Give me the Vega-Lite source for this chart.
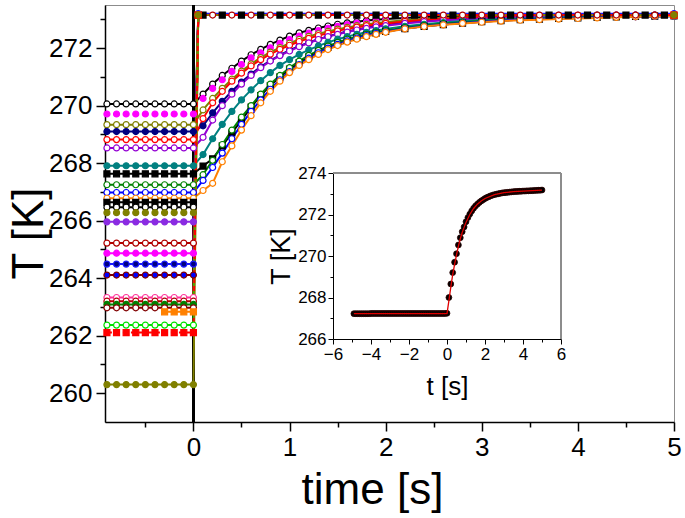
{
"$schema":"https://vega.github.io/schema/vega-lite/v6.json",
"autosize":"none",
"padding":{"left":105,"top":5,"right":11,"bottom":96},
"width":569,"height":417,
"background":"white",
"config":{"view":{"stroke":"#8c8c8c","strokeWidth":1},"axis":{"labelFont":"Liberation Sans","titleFont":"Liberation Sans"}},
"datasets":{
"main":[
{"s":"G1","t":-0.9,"T":270.06},{"s":"G1","t":-0.8,"T":270.06},{"s":"G1","t":-0.7,"T":270.06},{"s":"G1","t":-0.6,"T":270.06},{"s":"G1","t":-0.5,"T":270.06},{"s":"G1","t":-0.4,"T":270.06},{"s":"G1","t":-0.3,"T":270.06},{"s":"G1","t":-0.2,"T":270.06},{"s":"G1","t":-0.1,"T":270.06},{"s":"G1","t":0,"T":270.06},
{"s":"G1","t":0.1,"T":270.40},{"s":"G1","t":0.2,"T":270.75},{"s":"G1","t":0.3,"T":271.05},{"s":"G1","t":0.4,"T":271.30},{"s":"G1","t":0.5,"T":271.55},{"s":"G1","t":0.6,"T":271.77},{"s":"G1","t":0.7,"T":271.96},{"s":"G1","t":0.8,"T":272.13},{"s":"G1","t":0.9,"T":272.28},{"s":"G1","t":1.0,"T":272.42},{"s":"G1","t":1.1,"T":272.53},{"s":"G1","t":1.2,"T":272.62},{"s":"G1","t":1.3,"T":272.70},{"s":"G1","t":1.4,"T":272.77},{"s":"G1","t":1.5,"T":272.83},{"s":"G1","t":1.6,"T":272.88},{"s":"G1","t":1.7,"T":272.92},{"s":"G1","t":1.8,"T":272.96},{"s":"G1","t":1.9,"T":272.99},{"s":"G1","t":2.0,"T":273.01},{"s":"G1","t":2.2,"T":273.05},{"s":"G1","t":2.4,"T":273.08},{"s":"G1","t":2.6,"T":273.10},{"s":"G1","t":2.8,"T":273.11},{"s":"G1","t":3.0,"T":273.12},{"s":"G1","t":3.2,"T":273.13},{"s":"G1","t":3.4,"T":273.13},{"s":"G1","t":3.6,"T":273.14},{"s":"G1","t":3.8,"T":273.14},{"s":"G1","t":4.0,"T":273.14},{"s":"G1","t":4.2,"T":273.15},{"s":"G1","t":4.4,"T":273.15},{"s":"G1","t":4.6,"T":273.15},{"s":"G1","t":4.8,"T":273.15},{"s":"G1","t":5.0,"T":273.15},
{"s":"G2","t":-0.9,"T":269.71},{"s":"G2","t":-0.8,"T":269.71},{"s":"G2","t":-0.7,"T":269.71},{"s":"G2","t":-0.6,"T":269.71},{"s":"G2","t":-0.5,"T":269.71},{"s":"G2","t":-0.4,"T":269.71},{"s":"G2","t":-0.3,"T":269.71},{"s":"G2","t":-0.2,"T":269.71},{"s":"G2","t":-0.1,"T":269.71},{"s":"G2","t":0,"T":269.71},
{"s":"G2","t":0.1,"T":270.25},{"s":"G2","t":0.2,"T":270.60},{"s":"G2","t":0.3,"T":270.90},{"s":"G2","t":0.4,"T":271.19},{"s":"G2","t":0.5,"T":271.43},{"s":"G2","t":0.6,"T":271.66},{"s":"G2","t":0.7,"T":271.84},{"s":"G2","t":0.8,"T":272.01},{"s":"G2","t":0.9,"T":272.17},{"s":"G2","t":1.0,"T":272.30},{"s":"G2","t":1.1,"T":272.42},{"s":"G2","t":1.2,"T":272.52},{"s":"G2","t":1.3,"T":272.61},{"s":"G2","t":1.4,"T":272.69},{"s":"G2","t":1.5,"T":272.76},{"s":"G2","t":1.6,"T":272.82},{"s":"G2","t":1.7,"T":272.87},{"s":"G2","t":1.8,"T":272.91},{"s":"G2","t":1.9,"T":272.95},{"s":"G2","t":2.0,"T":272.98},{"s":"G2","t":2.2,"T":273.03},{"s":"G2","t":2.4,"T":273.06},{"s":"G2","t":2.6,"T":273.08},{"s":"G2","t":2.8,"T":273.10},{"s":"G2","t":3.0,"T":273.11},{"s":"G2","t":3.2,"T":273.12},{"s":"G2","t":3.4,"T":273.13},{"s":"G2","t":3.6,"T":273.13},{"s":"G2","t":3.8,"T":273.14},{"s":"G2","t":4.0,"T":273.14},{"s":"G2","t":4.2,"T":273.14},{"s":"G2","t":4.4,"T":273.15},{"s":"G2","t":4.6,"T":273.15},{"s":"G2","t":4.8,"T":273.15},{"s":"G2","t":5.0,"T":273.15},
{"s":"G3","t":-0.9,"T":269.34},{"s":"G3","t":-0.8,"T":269.34},{"s":"G3","t":-0.7,"T":269.34},{"s":"G3","t":-0.6,"T":269.34},{"s":"G3","t":-0.5,"T":269.34},{"s":"G3","t":-0.4,"T":269.34},{"s":"G3","t":-0.3,"T":269.34},{"s":"G3","t":-0.2,"T":269.34},{"s":"G3","t":-0.1,"T":269.34},{"s":"G3","t":0,"T":269.34},
{"s":"G3","t":0.1,"T":269.85},{"s":"G3","t":0.2,"T":270.25},{"s":"G3","t":0.3,"T":270.60},{"s":"G3","t":0.4,"T":270.92},{"s":"G3","t":0.5,"T":271.20},{"s":"G3","t":0.6,"T":271.45},{"s":"G3","t":0.7,"T":271.67},{"s":"G3","t":0.8,"T":271.86},{"s":"G3","t":0.9,"T":272.02},{"s":"G3","t":1.0,"T":272.17},{"s":"G3","t":1.1,"T":272.30},{"s":"G3","t":1.2,"T":272.41},{"s":"G3","t":1.3,"T":272.50},{"s":"G3","t":1.4,"T":272.58},{"s":"G3","t":1.5,"T":272.66},{"s":"G3","t":1.6,"T":272.72},{"s":"G3","t":1.7,"T":272.78},{"s":"G3","t":1.8,"T":272.83},{"s":"G3","t":1.9,"T":272.87},{"s":"G3","t":2.0,"T":272.91},{"s":"G3","t":2.2,"T":272.97},{"s":"G3","t":2.4,"T":273.02},{"s":"G3","t":2.6,"T":273.05},{"s":"G3","t":2.8,"T":273.07},{"s":"G3","t":3.0,"T":273.09},{"s":"G3","t":3.2,"T":273.10},{"s":"G3","t":3.4,"T":273.11},{"s":"G3","t":3.6,"T":273.12},{"s":"G3","t":3.8,"T":273.13},{"s":"G3","t":4.0,"T":273.13},{"s":"G3","t":4.2,"T":273.14},{"s":"G3","t":4.4,"T":273.14},{"s":"G3","t":4.6,"T":273.14},{"s":"G3","t":4.8,"T":273.15},{"s":"G3","t":5.0,"T":273.15},
{"s":"G4","t":-0.9,"T":269.10},{"s":"G4","t":-0.8,"T":269.10},{"s":"G4","t":-0.7,"T":269.10},{"s":"G4","t":-0.6,"T":269.10},{"s":"G4","t":-0.5,"T":269.10},{"s":"G4","t":-0.4,"T":269.10},{"s":"G4","t":-0.3,"T":269.10},{"s":"G4","t":-0.2,"T":269.10},{"s":"G4","t":-0.1,"T":269.10},{"s":"G4","t":0,"T":269.10},
{"s":"G4","t":0.1,"T":269.30},{"s":"G4","t":0.2,"T":269.75},{"s":"G4","t":0.3,"T":270.15},{"s":"G4","t":0.4,"T":270.50},{"s":"G4","t":0.5,"T":270.82},{"s":"G4","t":0.6,"T":271.10},{"s":"G4","t":0.7,"T":271.35},{"s":"G4","t":0.8,"T":271.57},{"s":"G4","t":0.9,"T":271.76},{"s":"G4","t":1.0,"T":271.93},{"s":"G4","t":1.1,"T":272.07},{"s":"G4","t":1.2,"T":272.20},{"s":"G4","t":1.3,"T":272.31},{"s":"G4","t":1.4,"T":272.41},{"s":"G4","t":1.5,"T":272.50},{"s":"G4","t":1.6,"T":272.58},{"s":"G4","t":1.7,"T":272.65},{"s":"G4","t":1.8,"T":272.71},{"s":"G4","t":1.9,"T":272.76},{"s":"G4","t":2.0,"T":272.81},{"s":"G4","t":2.2,"T":272.88},{"s":"G4","t":2.4,"T":272.94},{"s":"G4","t":2.6,"T":272.99},{"s":"G4","t":2.8,"T":273.02},{"s":"G4","t":3.0,"T":273.05},{"s":"G4","t":3.2,"T":273.07},{"s":"G4","t":3.4,"T":273.09},{"s":"G4","t":3.6,"T":273.10},{"s":"G4","t":3.8,"T":273.11},{"s":"G4","t":4.0,"T":273.12},{"s":"G4","t":4.2,"T":273.13},{"s":"G4","t":4.4,"T":273.13},{"s":"G4","t":4.6,"T":273.14},{"s":"G4","t":4.8,"T":273.14},{"s":"G4","t":5.0,"T":273.15},
{"s":"G5","t":-0.9,"T":268.82},{"s":"G5","t":-0.8,"T":268.82},{"s":"G5","t":-0.7,"T":268.82},{"s":"G5","t":-0.6,"T":268.82},{"s":"G5","t":-0.5,"T":268.82},{"s":"G5","t":-0.4,"T":268.82},{"s":"G5","t":-0.3,"T":268.82},{"s":"G5","t":-0.2,"T":268.82},{"s":"G5","t":-0.1,"T":268.82},{"s":"G5","t":0,"T":268.82},
{"s":"G5","t":0.1,"T":269.55},{"s":"G5","t":0.2,"T":270.10},{"s":"G5","t":0.3,"T":270.50},{"s":"G5","t":0.4,"T":270.85},{"s":"G5","t":0.5,"T":271.13},{"s":"G5","t":0.6,"T":271.38},{"s":"G5","t":0.7,"T":271.60},{"s":"G5","t":0.8,"T":271.79},{"s":"G5","t":0.9,"T":271.96},{"s":"G5","t":1.0,"T":272.10},{"s":"G5","t":1.1,"T":272.23},{"s":"G5","t":1.2,"T":272.34},{"s":"G5","t":1.3,"T":272.44},{"s":"G5","t":1.4,"T":272.52},{"s":"G5","t":1.5,"T":272.60},{"s":"G5","t":1.6,"T":272.67},{"s":"G5","t":1.7,"T":272.73},{"s":"G5","t":1.8,"T":272.78},{"s":"G5","t":1.9,"T":272.82},{"s":"G5","t":2.0,"T":272.86},{"s":"G5","t":2.2,"T":272.93},{"s":"G5","t":2.4,"T":272.98},{"s":"G5","t":2.6,"T":273.02},{"s":"G5","t":2.8,"T":273.05},{"s":"G5","t":3.0,"T":273.07},{"s":"G5","t":3.2,"T":273.09},{"s":"G5","t":3.4,"T":273.10},{"s":"G5","t":3.6,"T":273.11},{"s":"G5","t":3.8,"T":273.12},{"s":"G5","t":4.0,"T":273.13},{"s":"G5","t":4.2,"T":273.13},{"s":"G5","t":4.4,"T":273.14},{"s":"G5","t":4.6,"T":273.14},{"s":"G5","t":4.8,"T":273.14},{"s":"G5","t":5.0,"T":273.15},
{"s":"G6","t":-0.9,"T":268.53},{"s":"G6","t":-0.8,"T":268.53},{"s":"G6","t":-0.7,"T":268.53},{"s":"G6","t":-0.6,"T":268.53},{"s":"G6","t":-0.5,"T":268.53},{"s":"G6","t":-0.4,"T":268.53},{"s":"G6","t":-0.3,"T":268.53},{"s":"G6","t":-0.2,"T":268.53},{"s":"G6","t":-0.1,"T":268.53},{"s":"G6","t":0,"T":268.53},
{"s":"G6","t":0.1,"T":268.90},{"s":"G6","t":0.2,"T":269.50},{"s":"G6","t":0.3,"T":270.00},{"s":"G6","t":0.4,"T":270.40},{"s":"G6","t":0.5,"T":270.75},{"s":"G6","t":0.6,"T":271.05},{"s":"G6","t":0.7,"T":271.32},{"s":"G6","t":0.8,"T":271.55},{"s":"G6","t":0.9,"T":271.74},{"s":"G6","t":1.0,"T":271.90},{"s":"G6","t":1.1,"T":272.05},{"s":"G6","t":1.2,"T":272.18},{"s":"G6","t":1.3,"T":272.30},{"s":"G6","t":1.4,"T":272.40},{"s":"G6","t":1.5,"T":272.48},{"s":"G6","t":1.6,"T":272.56},{"s":"G6","t":1.7,"T":272.63},{"s":"G6","t":1.8,"T":272.69},{"s":"G6","t":1.9,"T":272.74},{"s":"G6","t":2.0,"T":272.78},{"s":"G6","t":2.2,"T":272.86},{"s":"G6","t":2.4,"T":272.92},{"s":"G6","t":2.6,"T":272.97},{"s":"G6","t":2.8,"T":273.00},{"s":"G6","t":3.0,"T":273.03},{"s":"G6","t":3.2,"T":273.05},{"s":"G6","t":3.4,"T":273.07},{"s":"G6","t":3.6,"T":273.09},{"s":"G6","t":3.8,"T":273.10},{"s":"G6","t":4.0,"T":273.11},{"s":"G6","t":4.2,"T":273.12},{"s":"G6","t":4.4,"T":273.13},{"s":"G6","t":4.6,"T":273.13},{"s":"G6","t":4.8,"T":273.14},{"s":"G6","t":5.0,"T":273.14},
{"s":"G7","t":-0.9,"T":267.91},{"s":"G7","t":-0.8,"T":267.91},{"s":"G7","t":-0.7,"T":267.91},{"s":"G7","t":-0.6,"T":267.91},{"s":"G7","t":-0.5,"T":267.91},{"s":"G7","t":-0.4,"T":267.91},{"s":"G7","t":-0.3,"T":267.91},{"s":"G7","t":-0.2,"T":267.91},{"s":"G7","t":-0.1,"T":267.91},{"s":"G7","t":0,"T":267.91},
{"s":"G7","t":0.1,"T":268.30},{"s":"G7","t":0.2,"T":268.85},{"s":"G7","t":0.3,"T":269.35},{"s":"G7","t":0.4,"T":269.80},{"s":"G7","t":0.5,"T":270.20},{"s":"G7","t":0.6,"T":270.55},{"s":"G7","t":0.7,"T":270.87},{"s":"G7","t":0.8,"T":271.15},{"s":"G7","t":0.9,"T":271.40},{"s":"G7","t":1.0,"T":271.60},{"s":"G7","t":1.1,"T":271.78},{"s":"G7","t":1.2,"T":271.94},{"s":"G7","t":1.3,"T":272.08},{"s":"G7","t":1.4,"T":272.20},{"s":"G7","t":1.5,"T":272.31},{"s":"G7","t":1.6,"T":272.40},{"s":"G7","t":1.7,"T":272.48},{"s":"G7","t":1.8,"T":272.55},{"s":"G7","t":1.9,"T":272.61},{"s":"G7","t":2.0,"T":272.67},{"s":"G7","t":2.2,"T":272.76},{"s":"G7","t":2.4,"T":272.83},{"s":"G7","t":2.6,"T":272.89},{"s":"G7","t":2.8,"T":272.94},{"s":"G7","t":3.0,"T":272.98},{"s":"G7","t":3.2,"T":273.01},{"s":"G7","t":3.4,"T":273.03},{"s":"G7","t":3.6,"T":273.05},{"s":"G7","t":3.8,"T":273.07},{"s":"G7","t":4.0,"T":273.08},{"s":"G7","t":4.2,"T":273.10},{"s":"G7","t":4.4,"T":273.11},{"s":"G7","t":4.6,"T":273.12},{"s":"G7","t":4.8,"T":273.13},{"s":"G7","t":5.0,"T":273.13},
{"s":"G8","t":-0.9,"T":267.63},{"s":"G8","t":-0.8,"T":267.63},{"s":"G8","t":-0.7,"T":267.63},{"s":"G8","t":-0.6,"T":267.63},{"s":"G8","t":-0.5,"T":267.63},{"s":"G8","t":-0.4,"T":267.63},{"s":"G8","t":-0.3,"T":267.63},{"s":"G8","t":-0.2,"T":267.63},{"s":"G8","t":-0.1,"T":267.63},{"s":"G8","t":0,"T":267.63},
{"s":"G8","t":0.1,"T":267.90},{"s":"G8","t":0.2,"T":268.15},{"s":"G8","t":0.3,"T":268.60},{"s":"G8","t":0.4,"T":269.05},{"s":"G8","t":0.5,"T":269.50},{"s":"G8","t":0.6,"T":269.95},{"s":"G8","t":0.7,"T":270.35},{"s":"G8","t":0.8,"T":270.70},{"s":"G8","t":0.9,"T":271.00},{"s":"G8","t":1.0,"T":271.27},{"s":"G8","t":1.1,"T":271.50},{"s":"G8","t":1.2,"T":271.70},{"s":"G8","t":1.3,"T":271.88},{"s":"G8","t":1.4,"T":272.03},{"s":"G8","t":1.5,"T":272.16},{"s":"G8","t":1.6,"T":272.27},{"s":"G8","t":1.7,"T":272.37},{"s":"G8","t":1.8,"T":272.45},{"s":"G8","t":1.9,"T":272.52},{"s":"G8","t":2.0,"T":272.58},{"s":"G8","t":2.2,"T":272.68},{"s":"G8","t":2.4,"T":272.76},{"s":"G8","t":2.6,"T":272.82},{"s":"G8","t":2.8,"T":272.87},{"s":"G8","t":3.0,"T":272.92},{"s":"G8","t":3.2,"T":272.96},{"s":"G8","t":3.4,"T":272.99},{"s":"G8","t":3.6,"T":273.01},{"s":"G8","t":3.8,"T":273.03},{"s":"G8","t":4.0,"T":273.05},{"s":"G8","t":4.2,"T":273.07},{"s":"G8","t":4.4,"T":273.09},{"s":"G8","t":4.6,"T":273.10},{"s":"G8","t":4.8,"T":273.11},{"s":"G8","t":5.0,"T":273.12},
{"s":"G9","t":-0.9,"T":267.25},{"s":"G9","t":-0.8,"T":267.25},{"s":"G9","t":-0.7,"T":267.25},{"s":"G9","t":-0.6,"T":267.25},{"s":"G9","t":-0.5,"T":267.25},{"s":"G9","t":-0.4,"T":267.25},{"s":"G9","t":-0.3,"T":267.25},{"s":"G9","t":-0.2,"T":267.25},{"s":"G9","t":-0.1,"T":267.25},{"s":"G9","t":0,"T":267.25},
{"s":"G9","t":0.1,"T":267.60},{"s":"G9","t":0.2,"T":268.10},{"s":"G9","t":0.3,"T":268.65},{"s":"G9","t":0.4,"T":269.15},{"s":"G9","t":0.5,"T":269.60},{"s":"G9","t":0.6,"T":270.00},{"s":"G9","t":0.7,"T":270.40},{"s":"G9","t":0.8,"T":270.75},{"s":"G9","t":0.9,"T":271.05},{"s":"G9","t":1.0,"T":271.32},{"s":"G9","t":1.1,"T":271.55},{"s":"G9","t":1.2,"T":271.75},{"s":"G9","t":1.3,"T":271.92},{"s":"G9","t":1.4,"T":272.07},{"s":"G9","t":1.5,"T":272.20},{"s":"G9","t":1.6,"T":272.31},{"s":"G9","t":1.7,"T":272.40},{"s":"G9","t":1.8,"T":272.48},{"s":"G9","t":1.9,"T":272.55},{"s":"G9","t":2.0,"T":272.61},{"s":"G9","t":2.2,"T":272.71},{"s":"G9","t":2.4,"T":272.79},{"s":"G9","t":2.6,"T":272.85},{"s":"G9","t":2.8,"T":272.90},{"s":"G9","t":3.0,"T":272.94},{"s":"G9","t":3.2,"T":272.97},{"s":"G9","t":3.4,"T":273.00},{"s":"G9","t":3.6,"T":273.02},{"s":"G9","t":3.8,"T":273.04},{"s":"G9","t":4.0,"T":273.06},{"s":"G9","t":4.2,"T":273.08},{"s":"G9","t":4.4,"T":273.09},{"s":"G9","t":4.6,"T":273.10},{"s":"G9","t":4.8,"T":273.11},{"s":"G9","t":5.0,"T":273.12},
{"s":"G10","t":-0.9,"T":266.98},{"s":"G10","t":-0.8,"T":266.98},{"s":"G10","t":-0.7,"T":266.98},{"s":"G10","t":-0.6,"T":266.98},{"s":"G10","t":-0.5,"T":266.98},{"s":"G10","t":-0.4,"T":266.98},{"s":"G10","t":-0.3,"T":266.98},{"s":"G10","t":-0.2,"T":266.98},{"s":"G10","t":-0.1,"T":266.98},{"s":"G10","t":0,"T":266.98},
{"s":"G10","t":0.1,"T":267.40},{"s":"G10","t":0.2,"T":267.85},{"s":"G10","t":0.3,"T":268.35},{"s":"G10","t":0.4,"T":268.85},{"s":"G10","t":0.5,"T":269.35},{"s":"G10","t":0.6,"T":269.80},{"s":"G10","t":0.7,"T":270.20},{"s":"G10","t":0.8,"T":270.57},{"s":"G10","t":0.9,"T":270.90},{"s":"G10","t":1.0,"T":271.18},{"s":"G10","t":1.1,"T":271.43},{"s":"G10","t":1.2,"T":271.65},{"s":"G10","t":1.3,"T":271.84},{"s":"G10","t":1.4,"T":272.00},{"s":"G10","t":1.5,"T":272.13},{"s":"G10","t":1.6,"T":272.25},{"s":"G10","t":1.7,"T":272.35},{"s":"G10","t":1.8,"T":272.44},{"s":"G10","t":1.9,"T":272.51},{"s":"G10","t":2.0,"T":272.57},{"s":"G10","t":2.2,"T":272.68},{"s":"G10","t":2.4,"T":272.76},{"s":"G10","t":2.6,"T":272.82},{"s":"G10","t":2.8,"T":272.87},{"s":"G10","t":3.0,"T":272.92},{"s":"G10","t":3.2,"T":272.96},{"s":"G10","t":3.4,"T":272.99},{"s":"G10","t":3.6,"T":273.01},{"s":"G10","t":3.8,"T":273.03},{"s":"G10","t":4.0,"T":273.05},{"s":"G10","t":4.2,"T":273.07},{"s":"G10","t":4.4,"T":273.08},{"s":"G10","t":4.6,"T":273.09},{"s":"G10","t":4.8,"T":273.10},{"s":"G10","t":5.0,"T":273.11},
{"s":"G11","t":-0.9,"T":266.78},{"s":"G11","t":-0.8,"T":266.78},{"s":"G11","t":-0.7,"T":266.78},{"s":"G11","t":-0.6,"T":266.78},{"s":"G11","t":-0.5,"T":266.78},{"s":"G11","t":-0.4,"T":266.78},{"s":"G11","t":-0.3,"T":266.78},{"s":"G11","t":-0.2,"T":266.78},{"s":"G11","t":-0.1,"T":266.78},{"s":"G11","t":0,"T":266.78},
{"s":"G11","t":0.1,"T":267.05},{"s":"G11","t":0.2,"T":267.30},{"s":"G11","t":0.3,"T":268.05},{"s":"G11","t":0.4,"T":268.60},{"s":"G11","t":0.5,"T":269.15},{"s":"G11","t":0.6,"T":269.65},{"s":"G11","t":0.7,"T":270.10},{"s":"G11","t":0.8,"T":270.50},{"s":"G11","t":0.9,"T":270.85},{"s":"G11","t":1.0,"T":271.15},{"s":"G11","t":1.1,"T":271.40},{"s":"G11","t":1.2,"T":271.60},{"s":"G11","t":1.3,"T":271.78},{"s":"G11","t":1.4,"T":271.95},{"s":"G11","t":1.5,"T":272.09},{"s":"G11","t":1.6,"T":272.21},{"s":"G11","t":1.7,"T":272.31},{"s":"G11","t":1.8,"T":272.40},{"s":"G11","t":1.9,"T":272.48},{"s":"G11","t":2.0,"T":272.55},{"s":"G11","t":2.2,"T":272.67},{"s":"G11","t":2.4,"T":272.75},{"s":"G11","t":2.6,"T":272.81},{"s":"G11","t":2.8,"T":272.86},{"s":"G11","t":3.0,"T":272.90},{"s":"G11","t":3.2,"T":272.94},{"s":"G11","t":3.4,"T":272.97},{"s":"G11","t":3.6,"T":272.99},{"s":"G11","t":3.8,"T":273.01},{"s":"G11","t":4.0,"T":273.03},{"s":"G11","t":4.2,"T":273.05},{"s":"G11","t":4.4,"T":273.07},{"s":"G11","t":4.6,"T":273.09},{"s":"G11","t":4.8,"T":273.11},{"s":"G11","t":5.0,"T":273.12},
{"s":"S1","t":-0.9,"T":266.64},{"s":"S1","t":-0.8,"T":266.64},{"s":"S1","t":-0.7,"T":266.64},{"s":"S1","t":-0.6,"T":266.64},{"s":"S1","t":-0.5,"T":266.64},{"s":"S1","t":-0.4,"T":266.64},{"s":"S1","t":-0.3,"T":266.64},{"s":"S1","t":-0.2,"T":266.64},{"s":"S1","t":-0.1,"T":266.64},{"s":"S1","t":0,"T":266.64},
{"s":"S1","t":0.05,"T":273.15},{"s":"S1","t":0.1,"T":273.15},{"s":"S1","t":0.3,"T":273.15},{"s":"S1","t":0.5,"T":273.15},{"s":"S1","t":0.7,"T":273.15},{"s":"S1","t":0.9,"T":273.15},{"s":"S1","t":1.1,"T":273.15},{"s":"S1","t":1.3,"T":273.15},{"s":"S1","t":1.5,"T":273.15},{"s":"S1","t":1.7,"T":273.15},{"s":"S1","t":1.9,"T":273.15},{"s":"S1","t":2.1,"T":273.15},{"s":"S1","t":2.3,"T":273.15},{"s":"S1","t":2.5,"T":273.15},{"s":"S1","t":2.7,"T":273.15},{"s":"S1","t":2.9,"T":273.15},{"s":"S1","t":3.1,"T":273.15},{"s":"S1","t":3.3,"T":273.15},{"s":"S1","t":3.5,"T":273.15},{"s":"S1","t":3.7,"T":273.15},{"s":"S1","t":3.9,"T":273.15},{"s":"S1","t":4.1,"T":273.15},{"s":"S1","t":4.3,"T":273.15},{"s":"S1","t":4.5,"T":273.15},{"s":"S1","t":4.7,"T":273.15},{"s":"S1","t":4.9,"T":273.15},
{"s":"S2","t":-0.9,"T":266.47},{"s":"S2","t":-0.8,"T":266.47},{"s":"S2","t":-0.7,"T":266.47},{"s":"S2","t":-0.6,"T":266.47},{"s":"S2","t":-0.5,"T":266.47},{"s":"S2","t":-0.4,"T":266.47},{"s":"S2","t":-0.3,"T":266.47},{"s":"S2","t":-0.2,"T":266.47},{"s":"S2","t":-0.1,"T":266.47},{"s":"S2","t":0,"T":266.47},{"s":"S2","t":0.05,"T":273.15},{"s":"S2","t":5.0,"T":273.15},
{"s":"S3","t":-0.9,"T":266.28},{"s":"S3","t":-0.8,"T":266.28},{"s":"S3","t":-0.7,"T":266.28},{"s":"S3","t":-0.6,"T":266.28},{"s":"S3","t":-0.5,"T":266.28},{"s":"S3","t":-0.4,"T":266.28},{"s":"S3","t":-0.3,"T":266.28},{"s":"S3","t":-0.2,"T":266.28},{"s":"S3","t":-0.1,"T":266.28},{"s":"S3","t":0,"T":266.28},
{"s":"S4","t":-0.9,"T":265.96},{"s":"S4","t":-0.8,"T":265.96},{"s":"S4","t":-0.7,"T":265.96},{"s":"S4","t":-0.6,"T":265.96},{"s":"S4","t":-0.5,"T":265.96},{"s":"S4","t":-0.4,"T":265.96},{"s":"S4","t":-0.3,"T":265.96},{"s":"S4","t":-0.2,"T":265.96},{"s":"S4","t":-0.1,"T":265.96},{"s":"S4","t":0,"T":265.96},{"s":"S4","t":0.05,"T":273.15},{"s":"S4","t":5.0,"T":273.15},
{"s":"S5","t":-0.9,"T":265.22},{"s":"S5","t":-0.8,"T":265.22},{"s":"S5","t":-0.7,"T":265.22},{"s":"S5","t":-0.6,"T":265.22},{"s":"S5","t":-0.5,"T":265.22},{"s":"S5","t":-0.4,"T":265.22},{"s":"S5","t":-0.3,"T":265.22},{"s":"S5","t":-0.2,"T":265.22},{"s":"S5","t":-0.1,"T":265.22},{"s":"S5","t":0,"T":265.22},{"s":"S5","t":0.05,"T":273.15},{"s":"S5","t":5.0,"T":273.15},
{"s":"S6","t":-0.9,"T":264.87},{"s":"S6","t":-0.8,"T":264.87},{"s":"S6","t":-0.7,"T":264.87},{"s":"S6","t":-0.6,"T":264.87},{"s":"S6","t":-0.5,"T":264.87},{"s":"S6","t":-0.4,"T":264.87},{"s":"S6","t":-0.3,"T":264.87},{"s":"S6","t":-0.2,"T":264.87},{"s":"S6","t":-0.1,"T":264.87},{"s":"S6","t":0,"T":264.87},{"s":"S6","t":0.05,"T":273.15},{"s":"S6","t":5.0,"T":273.15},
{"s":"S7","t":-0.9,"T":264.49},{"s":"S7","t":-0.8,"T":264.49},{"s":"S7","t":-0.7,"T":264.49},{"s":"S7","t":-0.6,"T":264.49},{"s":"S7","t":-0.5,"T":264.49},{"s":"S7","t":-0.4,"T":264.49},{"s":"S7","t":-0.3,"T":264.49},{"s":"S7","t":-0.2,"T":264.49},{"s":"S7","t":-0.1,"T":264.49},{"s":"S7","t":0,"T":264.49},{"s":"S7","t":0.05,"T":273.2},{"s":"S7","t":5.0,"T":273.2},
{"s":"S8","t":-0.9,"T":264.11},{"s":"S8","t":-0.8,"T":264.11},{"s":"S8","t":-0.7,"T":264.11},{"s":"S8","t":-0.6,"T":264.11},{"s":"S8","t":-0.5,"T":264.11},{"s":"S8","t":-0.4,"T":264.11},{"s":"S8","t":-0.3,"T":264.11},{"s":"S8","t":-0.2,"T":264.11},{"s":"S8","t":-0.1,"T":264.11},{"s":"S8","t":0,"T":264.11},{"s":"S8","t":0.05,"T":273.15},{"s":"S8","t":5.0,"T":273.15},
{"s":"S9","t":-0.9,"T":263.33},{"s":"S9","t":-0.8,"T":263.33},{"s":"S9","t":-0.7,"T":263.33},{"s":"S9","t":-0.6,"T":263.33},{"s":"S9","t":-0.5,"T":263.33},{"s":"S9","t":-0.4,"T":263.33},{"s":"S9","t":-0.3,"T":263.33},{"s":"S9","t":-0.2,"T":263.33},{"s":"S9","t":-0.1,"T":263.33},{"s":"S9","t":0,"T":263.33},{"s":"S9","t":0.05,"T":273.15},{"s":"S9","t":5.0,"T":273.15},
{"s":"S10","t":-0.9,"T":263.20},{"s":"S10","t":-0.8,"T":263.20},{"s":"S10","t":-0.7,"T":263.20},{"s":"S10","t":-0.6,"T":263.20},{"s":"S10","t":-0.5,"T":263.20},{"s":"S10","t":-0.4,"T":263.20},{"s":"S10","t":-0.3,"T":263.20},{"s":"S10","t":-0.2,"T":263.20},{"s":"S10","t":-0.1,"T":263.20},{"s":"S10","t":0,"T":263.20},
{"s":"S10","t":0.05,"T":273.15},{"s":"S10","t":0.2,"T":273.15},{"s":"S10","t":0.4,"T":273.15},{"s":"S10","t":0.6,"T":273.15},{"s":"S10","t":0.8,"T":273.15},{"s":"S10","t":1.0,"T":273.15},{"s":"S10","t":1.2,"T":273.15},{"s":"S10","t":1.4,"T":273.15},{"s":"S10","t":1.6,"T":273.15},{"s":"S10","t":1.8,"T":273.15},{"s":"S10","t":2.0,"T":273.15},{"s":"S10","t":2.2,"T":273.15},{"s":"S10","t":2.4,"T":273.15},{"s":"S10","t":2.6,"T":273.15},{"s":"S10","t":2.8,"T":273.15},{"s":"S10","t":3.0,"T":273.15},{"s":"S10","t":3.2,"T":273.15},{"s":"S10","t":3.4,"T":273.15},{"s":"S10","t":3.6,"T":273.15},{"s":"S10","t":3.8,"T":273.15},{"s":"S10","t":4.0,"T":273.15},{"s":"S10","t":4.2,"T":273.15},{"s":"S10","t":4.4,"T":273.15},{"s":"S10","t":4.6,"T":273.15},{"s":"S10","t":4.8,"T":273.15},{"s":"S10","t":5.0,"T":273.15},
{"s":"S11","t":-0.9,"T":263.09},{"s":"S11","t":-0.8,"T":263.09},{"s":"S11","t":-0.7,"T":263.09},{"s":"S11","t":-0.6,"T":263.09},{"s":"S11","t":-0.5,"T":263.09},{"s":"S11","t":-0.4,"T":263.09},{"s":"S11","t":-0.3,"T":263.09},{"s":"S11","t":-0.2,"T":263.09},{"s":"S11","t":-0.1,"T":263.09},{"s":"S11","t":0,"T":263.09},{"s":"S11","t":0.05,"T":273.15},{"s":"S11","t":5.0,"T":273.15},
{"s":"S12","t":-0.9,"T":262.97},{"s":"S12","t":-0.8,"T":262.97},{"s":"S12","t":-0.7,"T":262.97},{"s":"S12","t":-0.6,"T":262.97},{"s":"S12","t":-0.5,"T":262.97},{"s":"S12","t":-0.4,"T":262.97},{"s":"S12","t":-0.3,"T":262.97},{"s":"S12","t":-0.2,"T":262.97},{"s":"S12","t":-0.1,"T":262.97},{"s":"S12","t":0,"T":262.97},{"s":"S12","t":0.05,"T":273.15},{"s":"S12","t":5.0,"T":273.15},
{"s":"S13","t":-0.3,"T":262.83},{"s":"S13","t":-0.2,"T":262.83},{"s":"S13","t":-0.1,"T":262.83},{"s":"S13","t":0,"T":262.83},{"s":"S13","t":0.05,"T":273.15},{"s":"S13","t":5.0,"T":273.15},
{"s":"S14","t":-0.9,"T":262.37},{"s":"S14","t":-0.8,"T":262.37},{"s":"S14","t":-0.7,"T":262.37},{"s":"S14","t":-0.6,"T":262.37},{"s":"S14","t":-0.5,"T":262.37},{"s":"S14","t":-0.4,"T":262.37},{"s":"S14","t":-0.3,"T":262.37},{"s":"S14","t":-0.2,"T":262.37},{"s":"S14","t":-0.1,"T":262.37},{"s":"S14","t":0,"T":262.37},{"s":"S14","t":0.05,"T":273.15},{"s":"S14","t":5.0,"T":273.15},
{"s":"S15","t":-0.9,"T":262.11},{"s":"S15","t":-0.8,"T":262.11},{"s":"S15","t":-0.7,"T":262.11},{"s":"S15","t":-0.6,"T":262.11},{"s":"S15","t":-0.5,"T":262.11},{"s":"S15","t":-0.4,"T":262.11},{"s":"S15","t":-0.3,"T":262.11},{"s":"S15","t":-0.2,"T":262.11},{"s":"S15","t":-0.1,"T":262.11},{"s":"S15","t":0,"T":262.11},{"s":"S15","t":0.05,"T":273.15},{"s":"S15","t":5.0,"T":273.15},
{"s":"S16","t":-0.9,"T":260.30},{"s":"S16","t":-0.8,"T":260.30},{"s":"S16","t":-0.7,"T":260.30},{"s":"S16","t":-0.6,"T":260.30},{"s":"S16","t":-0.5,"T":260.30},{"s":"S16","t":-0.4,"T":260.30},{"s":"S16","t":-0.3,"T":260.30},{"s":"S16","t":-0.2,"T":260.30},{"s":"S16","t":-0.1,"T":260.30},{"s":"S16","t":0,"T":260.30},{"s":"S16","t":0.05,"T":273.15},{"s":"S16","t":5.0,"T":273.15}
],
"inset":[
{"k":"dot","t":-4.9,"T":267.22},{"k":"dot","t":-4.8,"T":267.22},{"k":"dot","t":-4.7,"T":267.22},{"k":"dot","t":-4.6,"T":267.22},{"k":"dot","t":-4.5,"T":267.22},{"k":"dot","t":-4.4,"T":267.22},{"k":"dot","t":-4.3,"T":267.22},{"k":"dot","t":-4.2,"T":267.22},{"k":"dot","t":-4.1,"T":267.22},{"k":"dot","t":-4.0,"T":267.23},
{"k":"dot","t":-3.9,"T":267.23},{"k":"dot","t":-3.8,"T":267.23},{"k":"dot","t":-3.7,"T":267.23},{"k":"dot","t":-3.6,"T":267.23},{"k":"dot","t":-3.5,"T":267.23},{"k":"dot","t":-3.4,"T":267.23},{"k":"dot","t":-3.3,"T":267.23},{"k":"dot","t":-3.2,"T":267.23},{"k":"dot","t":-3.1,"T":267.23},{"k":"dot","t":-3.0,"T":267.23},
{"k":"dot","t":-2.9,"T":267.23},{"k":"dot","t":-2.8,"T":267.23},{"k":"dot","t":-2.7,"T":267.23},{"k":"dot","t":-2.6,"T":267.23},{"k":"dot","t":-2.5,"T":267.23},{"k":"dot","t":-2.4,"T":267.23},{"k":"dot","t":-2.3,"T":267.23},{"k":"dot","t":-2.2,"T":267.23},{"k":"dot","t":-2.1,"T":267.23},{"k":"dot","t":-2.0,"T":267.23},
{"k":"dot","t":-1.9,"T":267.23},{"k":"dot","t":-1.8,"T":267.23},{"k":"dot","t":-1.7,"T":267.23},{"k":"dot","t":-1.6,"T":267.23},{"k":"dot","t":-1.5,"T":267.23},{"k":"dot","t":-1.4,"T":267.23},{"k":"dot","t":-1.3,"T":267.23},{"k":"dot","t":-1.2,"T":267.23},{"k":"dot","t":-1.1,"T":267.23},{"k":"dot","t":-1.0,"T":267.23},
{"k":"dot","t":-0.9,"T":267.23},{"k":"dot","t":-0.8,"T":267.23},{"k":"dot","t":-0.7,"T":267.23},{"k":"dot","t":-0.6,"T":267.23},{"k":"dot","t":-0.5,"T":267.23},{"k":"dot","t":-0.4,"T":267.23},{"k":"dot","t":-0.3,"T":267.23},{"k":"dot","t":-0.2,"T":267.23},{"k":"dot","t":-0.1,"T":267.23},{"k":"dot","t":0,"T":267.24},
{"k":"dot","t":0.1,"T":268.00},{"k":"dot","t":0.2,"T":268.65},{"k":"dot","t":0.3,"T":269.20},{"k":"dot","t":0.4,"T":269.70},{"k":"dot","t":0.5,"T":270.11},{"k":"dot","t":0.6,"T":270.53},{"k":"dot","t":0.7,"T":270.88},{"k":"dot","t":0.8,"T":271.17},{"k":"dot","t":0.9,"T":271.40},{"k":"dot","t":1.0,"T":271.65},
{"k":"dot","t":1.1,"T":271.85},{"k":"dot","t":1.2,"T":272.02},{"k":"dot","t":1.3,"T":272.17},{"k":"dot","t":1.4,"T":272.30},{"k":"dot","t":1.5,"T":272.41},{"k":"dot","t":1.6,"T":272.50},{"k":"dot","t":1.7,"T":272.58},{"k":"dot","t":1.8,"T":272.65},{"k":"dot","t":1.9,"T":272.71},{"k":"dot","t":2.0,"T":272.77},
{"k":"dot","t":2.1,"T":272.82},{"k":"dot","t":2.2,"T":272.86},{"k":"dot","t":2.3,"T":272.90},{"k":"dot","t":2.4,"T":272.93},{"k":"dot","t":2.5,"T":272.96},{"k":"dot","t":2.6,"T":272.98},{"k":"dot","t":2.7,"T":273.00},{"k":"dot","t":2.8,"T":273.02},{"k":"dot","t":2.9,"T":273.04},{"k":"dot","t":3.0,"T":273.05},
{"k":"dot","t":3.1,"T":273.06},{"k":"dot","t":3.2,"T":273.07},{"k":"dot","t":3.3,"T":273.08},{"k":"dot","t":3.4,"T":273.09},{"k":"dot","t":3.5,"T":273.10},{"k":"dot","t":3.6,"T":273.11},{"k":"dot","t":3.7,"T":273.11},{"k":"dot","t":3.8,"T":273.12},{"k":"dot","t":3.9,"T":273.12},{"k":"dot","t":4.0,"T":273.13},
{"k":"dot","t":4.1,"T":273.13},{"k":"dot","t":4.2,"T":273.14},{"k":"dot","t":4.3,"T":273.14},{"k":"dot","t":4.4,"T":273.15},{"k":"dot","t":4.5,"T":273.15},{"k":"dot","t":4.6,"T":273.16},{"k":"dot","t":4.7,"T":273.16},{"k":"dot","t":4.8,"T":273.17},{"k":"dot","t":4.9,"T":273.17},{"k":"dot","t":5.0,"T":273.18},
{"k":"fit","t":-4.9,"T":267.22},{"k":"fit","t":0,"T":267.22},{"k":"fit","t":0.1,"T":267.85},{"k":"fit","t":0.2,"T":268.50},{"k":"fit","t":0.3,"T":269.10},{"k":"fit","t":0.4,"T":269.60},{"k":"fit","t":0.5,"T":270.05},{"k":"fit","t":0.6,"T":270.47},{"k":"fit","t":0.7,"T":270.83},{"k":"fit","t":0.8,"T":271.13},{"k":"fit","t":0.9,"T":271.38},{"k":"fit","t":1.0,"T":271.62},{"k":"fit","t":1.2,"T":272.00},{"k":"fit","t":1.4,"T":272.29},{"k":"fit","t":1.6,"T":272.50},{"k":"fit","t":1.8,"T":272.65},{"k":"fit","t":2.0,"T":272.77},{"k":"fit","t":2.5,"T":272.96},{"k":"fit","t":3.0,"T":273.05},{"k":"fit","t":3.5,"T":273.10},{"k":"fit","t":4.0,"T":273.13},{"k":"fit","t":4.5,"T":273.15},{"k":"fit","t":5.0,"T":273.17}
]
},
"layer":[
{"data":{"name":"main"},
 "resolve":{"axis":{"x":"independent","y":"independent"}},
 "layer":[
  {"mark":{"type":"rule","color":"#000000","strokeWidth":1.5},
   "encoding":{"x":{"datum":0,"type":"quantitative","axis":null}}},
  {"transform":[{"filter":"datum.s !== 'G2' && datum.s !== 'S3' && datum.s !== 'S15'"}],
   "mark":{"type":"line","strokeWidth":2},
   "encoding":{
    "x":{"field":"t","type":"quantitative","scale":{"domain":[-0.92,5],"nice":false,"zero":false},
      "axis":{"orient":"bottom","title":"time [s]","values":[0,1,2,3,4,5],"grid":false,"domainColor":"#000","domainWidth":1.5,"tickColor":"#000","tickWidth":1.5,"tickSize":9,"labelFontSize":26,"labelColor":"#000","labelPadding":3,"labelFlush":false,"labelOverlap":false,"titleFontSize":44,"titleFontWeight":"normal","titleColor":"#000","titleX":267,"titleY":46}},
    "y":{"field":"T","type":"quantitative","scale":{"domain":[259,273.5],"nice":false,"zero":false},
      "axis":{"orient":"left","title":"T [K]","values":[260,262,264,266,268,270,272],"grid":false,"domainColor":"#000","domainWidth":1.5,"tickColor":"#000","tickWidth":1.5,"tickSize":9,"labelFontSize":26,"labelColor":"#000","labelPadding":4,"labelFlush":false,"labelOverlap":false,"titleFontSize":44,"titleFontWeight":"normal","titleColor":"#000","titleX":-54,"titleY":228}},
    "stroke":{"field":"s","type":"nominal","legend":null,"scale":{"domain":["G1","G2","G3","G4","G5","G6","G7","G8","G9","G10","G11","S1","S2","S3","S4","S5","S6","S7","S8","S9","S10","S11","S12","S13","S14","S15","S16"],"range":["#000000","#ff00ff","#808000","#000080","#ff0000","#9400d3","#008080","#000000","#008000","#0000ff","#ff8000","#000000","#000000","#808000","#8a2be2","#b00000","#ff00ff","#1a1aff","#800000","#ff3399","#b00000","#008000","#800000","#ff8000","#00e000","#ff0000","#808000"]}}
   }},
  {"transform":[{"filter":"datum.s === 'S15'"}],
   "mark":{"type":"line","strokeWidth":2,"color":"#ff0000","strokeDash":[5,3]},
   "encoding":{
    "x":{"field":"t","type":"quantitative","axis":{"orient":"bottom","values":[-0.5,0.5,1.5,2.5,3.5,4.5],"labels":false,"domain":false,"title":null,"grid":false,"tickColor":"#000","tickWidth":1.5,"tickSize":5}},
    "y":{"field":"T","type":"quantitative","axis":{"orient":"left","values":[261,263,265,267,269,271,273],"labels":false,"domain":false,"title":null,"grid":false,"tickColor":"#000","tickWidth":1.5,"tickSize":5}}}},
  {"mark":{"type":"point","filled":true,"size":36,"strokeWidth":1.2,"opacity":1},
   "encoding":{
    "x":{"field":"t","type":"quantitative","axis":null},
    "y":{"field":"T","type":"quantitative","axis":null},
    "stroke":{"field":"s","type":"nominal","legend":null},
    "fill":{"field":"s","type":"nominal","legend":null,"scale":{"domain":["G1","G2","G3","G4","G5","G6","G7","G8","G9","G10","G11","S1","S2","S3","S4","S5","S6","S7","S8","S9","S10","S11","S12","S13","S14","S15","S16"],"range":["#ffffff","#ff00ff","#ffffff","#000080","#ffffff","#ffffff","#008080","#000000","#ffffff","#ffffff","#ffffff","#000000","#ffffff","#808000","#8a2be2","#ffffff","#ff00ff","#000080","#0000ff","#ffffff","#ffffff","#008000","#ffffff","#ff8000","#ffffff","#ff0000","#808000"]}},
    "shape":{"field":"s","type":"nominal","legend":null,"scale":{"domain":["G1","G2","G3","G4","G5","G6","G7","G8","G9","G10","G11","S1","S2","S3","S4","S5","S6","S7","S8","S9","S10","S11","S12","S13","S14","S15","S16"],"range":["circle","circle","circle","circle","circle","circle","circle","square","circle","circle","circle","square","circle","circle","circle","circle","circle","circle","circle","circle","circle","circle","circle","square","circle","square","circle"]}}
   }}
 ]},
{"data":{"name":"inset"},
 "resolve":{"axis":{"x":"independent","y":"independent"}},
 "layer":[
  {"mark":{"type":"rule","color":"#8c8c8c","strokeWidth":1},
   "encoding":{"y":{"datum":274,"type":"quantitative","axis":null},"x":{"datum":-6,"type":"quantitative","axis":null},"x2":{"datum":6}}},
  {"mark":{"type":"rule","color":"#8c8c8c","strokeWidth":1},
   "encoding":{"x":{"datum":6,"type":"quantitative","axis":null},"y":{"datum":266,"type":"quantitative","axis":null},"y2":{"datum":274}}},
  {"transform":[{"filter":"datum.k === 'dot'"}],
   "mark":{"type":"point","filled":true,"size":34,"fill":"#000000","stroke":"#2a0000","strokeWidth":0.8,"opacity":1},
   "encoding":{
    "x":{"field":"t","type":"quantitative","scale":{"domain":[-6,6],"range":[228,456],"nice":false,"zero":false},
      "axis":{"orient":"bottom","offset":-83,"title":"t [s]","values":[-6,-4,-2,0,2,4,6],"grid":false,"domainColor":"#000","domainWidth":1,"tickColor":"#000","tickWidth":1,"tickSize":5,"labelFontSize":17,"labelColor":"#000","labelPadding":2,"labelFlush":false,"labelOverlap":false,"titleFontSize":26,"titleFontWeight":"normal","titleColor":"#000","titlePadding":11}},
    "y":{"field":"T","type":"quantitative","scale":{"domain":[266,274],"range":[334,168],"nice":false,"zero":false},
      "axis":{"orient":"left","offset":-228,"title":"T [K]","values":[266,268,270,272,274],"grid":false,"domainColor":"#000","domainWidth":1,"tickColor":"#000","tickWidth":1,"tickSize":5,"labelFontSize":17,"labelColor":"#000","labelPadding":2,"labelFlush":false,"labelOverlap":false,"titleFontSize":27,"titleFontWeight":"normal","titleColor":"#000","titlePadding":2}}
   }},
  {"transform":[{"filter":"datum.k === 'fit'"}],
   "mark":{"type":"line","color":"#e00000","strokeWidth":1.3},
   "encoding":{
    "x":{"field":"t","type":"quantitative","axis":{"orient":"bottom","offset":-83,"values":[-5,-3,-1,1,3,5],"labels":false,"domain":false,"title":null,"grid":false,"tickColor":"#000","tickWidth":1,"tickSize":3}},
    "y":{"field":"T","type":"quantitative","axis":{"orient":"left","offset":-228,"values":[267,269,271,273],"labels":false,"domain":false,"title":null,"grid":false,"tickColor":"#000","tickWidth":1,"tickSize":3}}}}
 ]}
],
"resolve":{"scale":{"x":"independent","y":"independent"}}
}
